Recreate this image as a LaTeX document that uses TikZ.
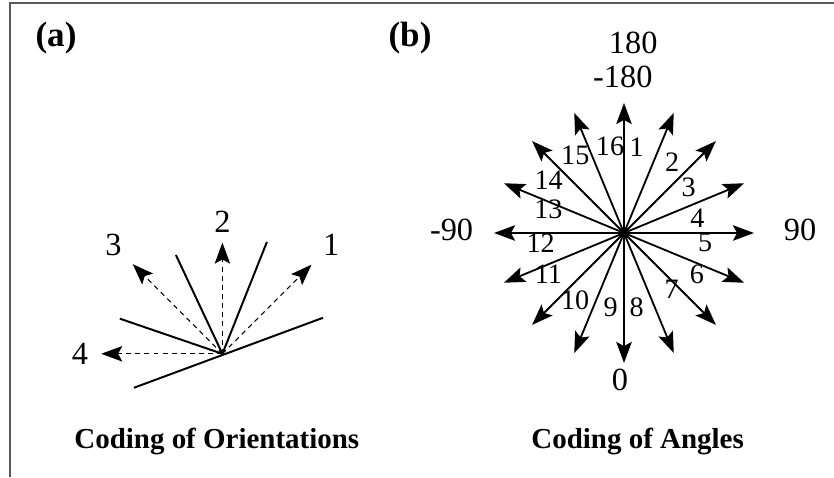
\documentclass[tikz,border=0pt]{standalone}
\usepackage{fontspec}
\setmainfont{Liberation Serif}
\usetikzlibrary{arrows.meta,calc}

\begin{document}
\begin{tikzpicture}[
  >={Stealth[length=15pt,width=11pt,inset=3pt]},
  every node/.style={font=\fontsize{21}{25}\selectfont, inner sep=0pt},
  num/.style={font=\fontsize{20}{24}\selectfont},
  big/.style={font=\fontsize{23}{27}\selectfont},
  ttl/.style={font=\fontsize{20.6}{25}\selectfont\bfseries},
  edge/.style={line width=1.4pt},
  dir/.style={->, line width=0.8pt, dash pattern=on 3.5pt off 3pt},
  ray/.style={->, line width=1.3pt}
]
  \useasboundingbox (0,0) rectangle (20.85,11.925);
  \draw[black!65, line width=0.8pt] (0.25,0) -- (0.25,11.85) -- (20.85,11.85);

  \node[ttl, font=\fontsize{25}{29}\selectfont\bfseries] (pa) at (1.4,10.975) {(a)};
  \node[ttl, font=\fontsize{25}{29}\selectfont\bfseries] (pb) at (10.25,10.975) {(b)};

  \coordinate (ca) at (5.56,3.08);
  \foreach \ang/\len/\lr/\lab in {45/3.15/3.85/1,90/2.78/3.3/2,135/3.17/3.85/3,180/3.03/3.56/4} {
    \path (ca) ++(\ang:\len) coordinate (d\lab);
    \draw[dir] (ca) -- (d\lab);
    \path (ca) ++(\ang:\lr) node[big] (l\lab) {\lab};
  }
  \foreach \ang/\len/\n in {19.7/2.67/e1,201/2.37/e2,161.1/2.71/e3,115.2/2.73/e4,68.3/3.01/e5} {
    \path (ca) ++(\ang:\len) coordinate (\n);
  }
  \draw[edge] (e2) -- (e1);
  \draw[edge] (ca) -- (e3);
  \draw[edge] (ca) -- (e4);
  \draw[edge] (ca) -- (e5);
  \node[ttl] (ta) at (5.42,0.9) {Coding of Orientations};

  \coordinate (cb) at (15.6,6.1);
  \foreach \k in {0,...,15} {
    \path (cb) ++({22.5*\k}:3.25) coordinate (t\k);
    \draw[ray] (cb) -- (t\k);
  }
  \foreach \k/\ang/\r in {1/81.6/2.17,2/56/2.15,3/35.4/1.98,4/11.3/1.87,5/-6.8/2.04,
      6/-29.8/2.1,7/-50/1.85,8/-80.3/1.88,9/-100.2/1.89,10/-126/2.08,11/-151.6/2.15,
      12/-173/2.1,13/162.6/1.98,14/145/2.3,15/122/2.3,16/99.2/2.19} {
    \path (cb) ++(\ang:\r) node[num] (n\k) {\k};
  }
  \node[big] (a180) at ($(cb)+(0.23,4.75)$) {180};
  \node[big] (m180) at ($(cb)+(-0.03,3.91)$) {-180};
  \node[big] (m90) at ($(cb)+(-4.31,0.075)$) {-90};
  \node[big] (a90) at ($(cb)+(4.4,0.075)$) {90};
  \node[big] (a0) at ($(cb)+(-0.1,-3.675)$) {0};
  \node[ttl] (tb) at (15.94,0.9) {Coding of Angles};
\end{tikzpicture}
\end{document}
